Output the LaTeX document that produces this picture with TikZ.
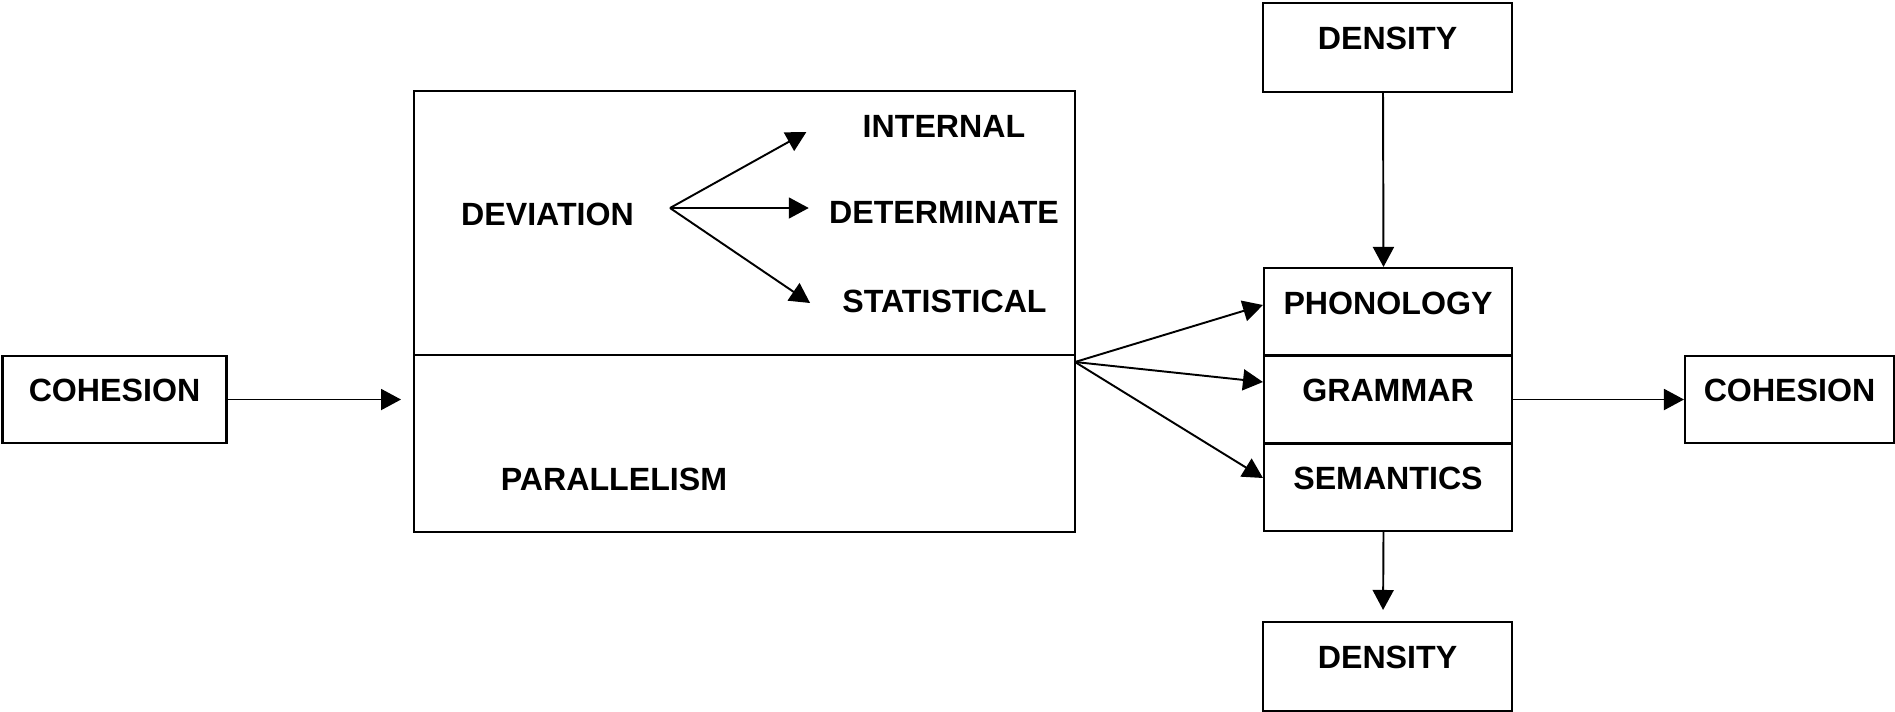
\documentclass[tikz,border=0pt]{standalone}
\usepackage{fontspec}
\setmainfont{Liberation Sans}
\usetikzlibrary{arrows.meta, calc}

\tikzset{
    % Box styles - plain black frames
    termbox/.style={
        rectangle,
        draw=black,
        line width=1.2pt,
        minimum width=4.96cm,
        minimum height=1.76cm,
        inner sep=0pt,
        align=center,
        text height=0.47cm,
        text depth=0.39cm,
        font=\bfseries\fontsize{18.3}{22}\selectfont
    },
    panel/.style={
        rectangle,
        draw=black,
        line width=1.2pt,
        minimum width=13.22cm,
        inner sep=0pt
    },
    itemtext/.style={
        inner sep=0pt,
        font=\bfseries\fontsize{18.3}{22}\selectfont
    },
    % Arrow style - straight lines only
    arrow/.style={
        -{Triangle[length=0.4cm, width=0.42cm]},
        line width=1.1pt,
        draw=black
    }
}

\begin{document}
\begin{tikzpicture}[x=0.02cm, y=-0.02cm]
    \useasboundingbox (0,0) rectangle (1895,711);

    \node[termbox, minimum width=4.48cm, minimum height=1.74cm] (cohin) at (114.5,399.5) {COHESION};

    \node[panel, minimum height=5.28cm] (devbox) at (744.5,223) {};
    \node[panel, minimum height=3.54cm] (parbox) at (744.5,443.5) {};

    \node[itemtext] (deviation) at (547.5,214) {DEVIATION};
    \node[itemtext] (internal) at (944,126) {INTERNAL};
    \node[itemtext] (determinate) at (944,212.5) {DETERMINATE};
    \node[itemtext] (statistical) at (944.5,301.5) {STATISTICAL};
    \node[itemtext] (parallelism) at (614,479) {PARALLELISM};
    \coordinate (devfork) at (670,208);

    \node[termbox, minimum width=4.98cm, minimum height=1.78cm] (densin) at (1387.5,47.5) {DENSITY};
    \node[termbox] (phon) at (1388,312) {PHONOLOGY};
    \node[termbox] (gram) at (1388,399.5) {GRAMMAR};
    \node[termbox] (sem) at (1388,487) {SEMANTICS};
    \node[termbox, minimum width=4.98cm, minimum height=1.78cm] (densout) at (1387.5,666.5) {DENSITY};
    \node[termbox, minimum width=4.18cm, minimum height=1.74cm] (cohout) at (1789.5,399.5) {COHESION};
    \coordinate (mixfork) at (1075,362);

    \draw[arrow, shorten >=0.24cm] (cohin.east) -- (cohin.east -| parbox.west);

    \draw[arrow] (devfork) -- ($(internal.west)+(-56,6)$);
    \draw[arrow] (devfork) -- ($(determinate.west)+(-20,-4.5)$);
    \draw[arrow] (devfork) -- ($(statistical.west)+(-32,1.5)$);

    \draw[arrow] (mixfork) -- ($(phon.west)+(0,-7)$);
    \draw[arrow] (mixfork) -- ($(gram.west)+(0,-17.5)$);
    \draw[arrow] (mixfork) -- ($(sem.west)+(0,-9)$);

    \draw[arrow] ($(densin.south)+(-4.5,0)$) -- ($(phon.north)+(-4.5,0)$);
    \draw[arrow, shorten >=0.22cm] ($(sem.south)+(-4.5,0)$) -- ($(densout.north)+(-4.5,0)$);
    \draw[arrow] (gram.east) -- (cohout.west);
\end{tikzpicture}
\end{document}
